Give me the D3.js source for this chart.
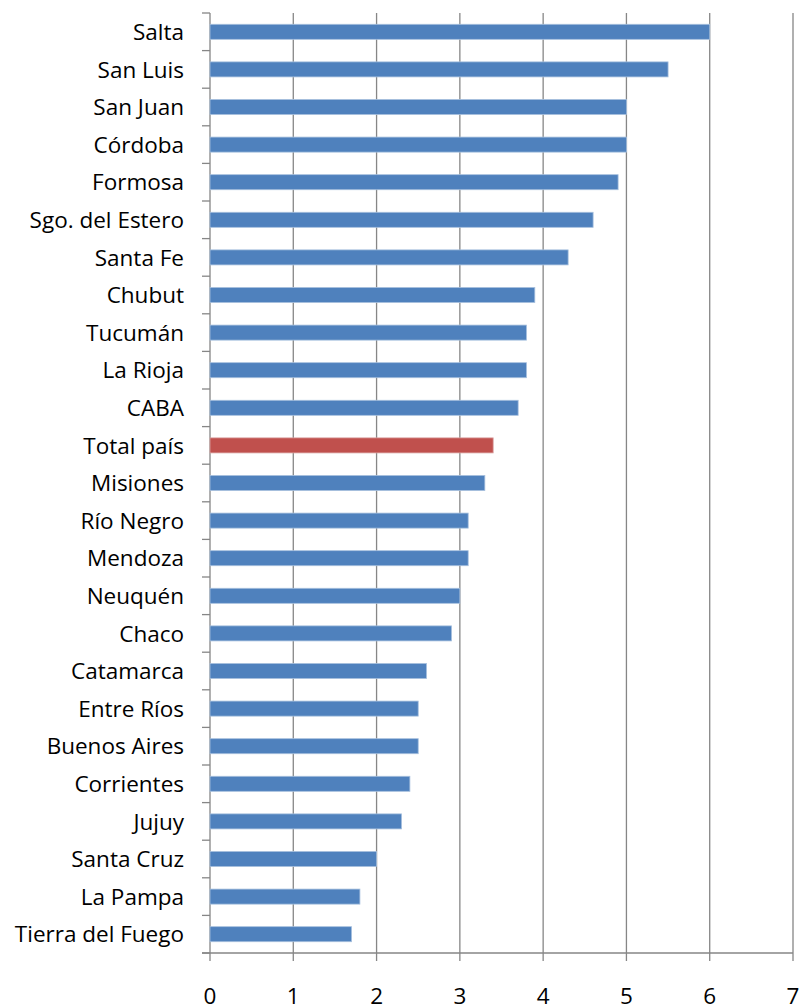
<!DOCTYPE html>
<html>
<head>
<meta charset="utf-8">
<script src="https://cdn.jsdelivr.net/npm/d3@7"></script>
<style>
  body { margin: 0; background: #fff; }
  text { font-family: "Open Sans", sans-serif; fill: #000; }
</style>
</head>
<body>
<div id="chart"></div>
<script>
var provincias = ["Salta", "San Luis", "San Juan", "Córdoba", "Formosa", "Sgo. del Estero",
  "Santa Fe", "Chubut", "Tucumán", "La Rioja", "CABA", "Total país", "Misiones",
  "Río Negro", "Mendoza", "Neuquén", "Chaco", "Catamarca", "Entre Ríos",
  "Buenos Aires", "Corrientes", "Jujuy", "Santa Cruz", "La Pampa", "Tierra del Fuego"];
var valores = [6.0, 5.5, 5.0, 5.0, 4.9, 4.6, 4.3, 3.9, 3.8, 3.8, 3.7, 3.4, 3.3,
  3.1, 3.1, 3.0, 2.9, 2.6, 2.5, 2.5, 2.4, 2.3, 2.0, 1.8, 1.7];
var ticks = [0, 1, 2, 3, 4, 5, 6, 7];

var mrg = { top: 13, right: 7, bottom: 54, left: 210 },
    svgWidth = 800 - mrg.left - mrg.right,
    svgHeight = 1007 - mrg.top - mrg.bottom;

var data = provincias.map(function(p, i) { return { prov: p, val: valores[i] }; });

var svg = d3.select("#chart")
  .append("svg")
  .attr("width", 800)
  .attr("height", 1007);
var chart = svg.append("g")
  .attr("transform", `translate(${mrg.left}, ${mrg.top})`);

var xScale = d3.scaleLinear().domain([0, 7]).range([0, svgWidth]);
var yScale = d3.scaleBand().domain(provincias).range([0, svgHeight])
  .paddingInner(0.6).paddingOuter(0.3);

// gridlines (with small ticks below the axis)
chart.selectAll("line.grid")
  .data(ticks)
  .enter()
  .append("line")
  .attr("class", "grid")
  .attr("x1", function(d) { return xScale(d); })
  .attr("x2", function(d) { return xScale(d); })
  .attr("y1", 0)
  .attr("y2", svgHeight + 8)
  .attr("stroke", "#868686")
  .attr("stroke-width", 1.3);

// bottom axis line
chart.append("line")
  .attr("x1", -8).attr("x2", svgWidth)
  .attr("y1", svgHeight).attr("y2", svgHeight)
  .attr("stroke", "#868686")
  .attr("stroke-width", 1.3);

// left axis tick marks at category boundaries
var step = yScale.step();
chart.selectAll("line.ytick")
  .data(d3.range(provincias.length + 1))
  .enter()
  .append("line")
  .attr("class", "ytick")
  .attr("x1", -8).attr("x2", 0)
  .attr("y1", function(i) { return i * step; })
  .attr("y2", function(i) { return i * step; })
  .attr("stroke", "#868686")
  .attr("stroke-width", 1.3);

chart.selectAll("rect")
  .data(data)
  .enter()
  .append("rect")
  .attr("class", "bar")
  .attr("fill", function(d) { return d.prov === "Total país" ? "#C0504D" : "#4F81BD"; })
  .attr("stroke", function(d) { return d.prov === "Total país" ? "#D9A3A2" : "#A7C0DE"; })
  .attr("stroke-width", 0.8)
  .attr("x", 0)
  .attr("y", function(d) { return yScale(d.prov); })
  .attr("width", function(d) { return xScale(d.val); })
  .attr("height", yScale.bandwidth());

// category labels
chart.selectAll("text.cat")
  .data(data)
  .enter()
  .append("text")
  .attr("class", "cat")
  .attr("x", -26)
  .attr("y", function(d) { return yScale(d.prov) + yScale.bandwidth() / 2; })
  .attr("dy", "0.36em")
  .attr("text-anchor", "end")
  .attr("font-size", 22.5)
  .text(function(d) { return d.prov; });

// value axis labels
chart.selectAll("text.xt")
  .data(ticks)
  .enter()
  .append("text")
  .attr("class", "xt")
  .attr("x", function(d) { return xScale(d); })
  .attr("y", 1004 - mrg.top)
  .attr("text-anchor", "middle")
  .attr("font-size", 22.5)
  .text(function(d) { return d; });
</script>
</body>
</html>
